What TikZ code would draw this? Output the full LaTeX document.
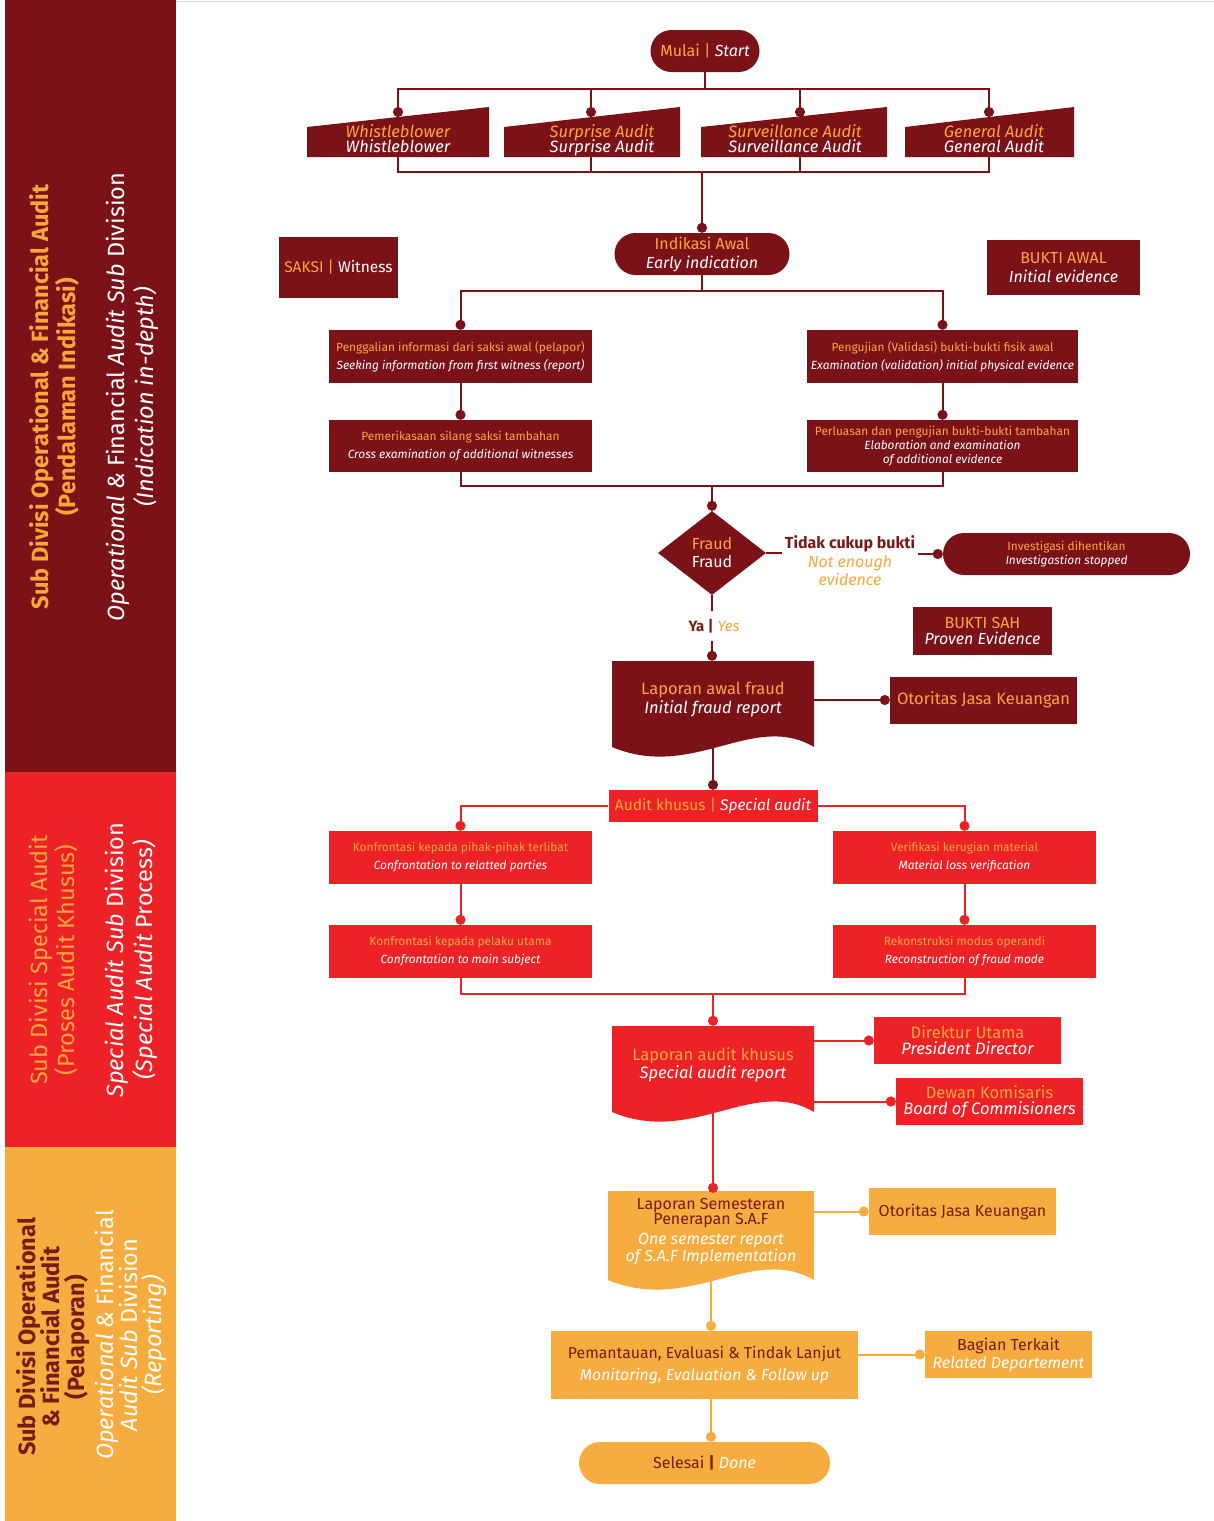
\documentclass[tikz,border=0pt]{standalone}
\usepackage{fontspec}
\setmainfont{Fira Sans}
\usetikzlibrary{shapes.geometric,arrows.meta,calc}
\definecolor{maroon}{HTML}{7A1218}
\definecolor{fred}{HTML}{EC2227}
\definecolor{forange}{HTML}{F7AC40}
\definecolor{torange}{HTML}{F8A83A}
\definecolor{tdark}{HTML}{7A1A14}
\newcommand\fsz[2]{\fontsize{#1}{#2}\selectfont}
\newcommand\txo[1]{{\color{torange}#1}}
\newcommand\txw[1]{{\color{white}\itshape #1}}
\newcommand\txu[1]{{\color{white}#1}}
\newcommand\txd[1]{{\color{tdark}#1}}
\newcommand\dph{\vphantom{Ap}}
\newcommand\nolsk{\lineskiplimit=-20pt\relax}
\newcommand\docpath[4]{(#1,#3) -- (#2,#3) -- (#2,#4) .. controls ({#2-0.3*(#2-#1)},{#4-36}) and ({#1+0.4*(#2-#1)},{#4+34}) .. (#1,#4) -- cycle}
\begin{document}
\begin{tikzpicture}[x=1pt,y=-1pt,
  every node/.style={inner sep=0pt, align=center},
  mbox/.style={rectangle, fill=maroon},
  rbox/.style={rectangle, fill=fred},
  obox/.style={rectangle, fill=forange},
  mpill/.style={rectangle, rounded corners=21pt, fill=maroon},
  opill/.style={rectangle, rounded corners=21pt, fill=forange},
  mline/.style={draw=maroon, line width=2pt},
  rline/.style={draw=fred, line width=2pt},
  oline/.style={draw=forange, line width=2pt},
  dotend/.style={-{Circle[length=10pt]}},
  small/.style={font=\fsz{11.9}{18}},
  srctxt/.style={font=\itshape\fsz{16.5}{15}\nolsk},
  bandtxt/.style={rotate=90}
]
\useasboundingbox (0,0) rectangle (1214,1521);
\fill[white] (0,0) rectangle (1214,1521);
\draw[black!15, line width=1pt] (176,1) -- (1214,1);

% ---------- left bands ----------
\fill[maroon] (5,0) rectangle (176,772);
\fill[fred] (5,772) rectangle (176,1147);
\fill[forange] (5,1147) rectangle (176,1521);

\node[bandtxt, font=\bfseries\fsz{23.5}{27}] (b1a) at (54,397)
  {\txo{Sub Divisi Operational \& Financial Audit}\\\txo{(Pendalaman Indikasi)}};
\node[bandtxt, font=\fsz{23.5}{29}] (b1b) at (132,397)
  {\txw{Operational \& }\txu{Financial}\txw{ Audit Sub }\txu{Division}\\\txw{(Indication in-depth)}};

\node[bandtxt, font=\fsz{23.5}{27}] (b2a) at (54,960)
  {\txo{Sub Divisi Special Audit}\\\txo{(Proses Audit Khusus)}};
\node[bandtxt, font=\fsz{23.5}{29}] (b2b) at (131,960)
  {\txw{Special Audit Sub }\txu{Division}\\\txw{(Special Audit }\txu{Process}\txw{)}};

\node[bandtxt, font=\bfseries\fsz{23.5}{24.5}] (b3a) at (53,1337)
  {\txd{Sub Divisi Operational}\\\txd{\& Financial Audit}\\\txd{(Pelaporan)}};
\node[bandtxt, font=\fsz{23.5}{24}] (b3b) at (131,1335)
  {\txw{Operational \& }\txu{Financial}\\\txw{Audit Sub }\txu{Division}\\\txw{(Reporting)}};

% ---------- start & sources ----------
\node[mpill, minimum width=109, minimum height=42, font=\fsz{16}{18}] (start) at (705,51)
  {\txo{Mulai \textbar} \txw{Start}};

\fill[maroon] (307,157) -- (307,127) -- (489,107) -- (489,157) -- cycle;
\fill[maroon] (504,157) -- (504,127) -- (680,107) -- (680,157) -- cycle;
\fill[maroon] (701,157) -- (701,127) -- (887,107) -- (887,157) -- cycle;
\fill[maroon] (905,157) -- (905,127) -- (1074,107) -- (1074,157) -- cycle;
\node[srctxt] (wb) at (398,140) {\txo{\dph Whistleblower}\\\txw{\dph Whistleblower}};
\node[srctxt] (sa) at (602,140) {\txo{\dph Surprise Audit}\\\txw{\dph Surprise Audit}};
\node[srctxt] (sv) at (795,140) {\txo{\dph Surveillance Audit}\\\txw{\dph Surveillance Audit}};
\node[srctxt] (ga) at (994,140) {\txo{\dph General Audit}\\\txw{\dph General Audit}};
\coordinate (wbin) at (398,117); \coordinate (wbout) at (398,157);
\coordinate (sain) at (591,117); \coordinate (saout) at (591,157);
\coordinate (svin) at (800,117); \coordinate (svout) at (800,157);
\coordinate (gain) at (989,117); \coordinate (gaout) at (989,157);
\coordinate (bus1) at (705,89);
\coordinate (bus2) at (702,172);

\draw[mline] (start.south) -- (bus1);
\draw[mline, dotend] (bus1) -| (wbin);
\draw[mline, dotend] (bus1) -| (gain);
\draw[mline, dotend] (sain |- bus1) -- (sain);
\draw[mline, dotend] (svin |- bus1) -- (svin);
\draw[mline] (wbout) |- (bus2) -| (gaout);
\draw[mline] (saout) -- (saout |- bus2);
\draw[mline] (svout) -- (svout |- bus2);

% ---------- indication ----------
\node[mpill, minimum width=175, minimum height=42, font=\fsz{16}{19}] (ind) at (702,254)
  {\txo{Indikasi Awal}\\\txw{Early indication}};
\draw[mline, dotend] (bus2) -- (ind.north);

\node[mbox, minimum width=119, minimum height=61, font=\fsz{15.5}{18}] (saksi) at (338.5,267.5)
  {\txo{SAKSI \textbar} \txu{Witness}};
\node[mbox, minimum width=153, minimum height=55, font=\fsz{16}{19}] (bawal) at (1063.5,267.5)
  {\txo{BUKTI AWAL}\\\txw{Initial evidence}};

\node[mbox, minimum width=263, minimum height=53, small] (p1l) at (460.5,356.5)
  {\txo{Penggalian informasi dari saksi awal (pelapor)}\\\txw{Seeking information from first witness (report)}};
\node[mbox, minimum width=271, minimum height=53, small] (p1r) at (942.5,356.5)
  {\txo{Pengujian (Validasi) bukti-bukti fisik awal}\\\txw{Examination (validation) initial physical evidence}};
\node[mbox, minimum width=263, minimum height=52, small] (p2l) at (460.5,446)
  {\txo{Pemerikasaan silang saksi tambahan}\\\txw{Cross examination of additional witnesses}};
\node[mbox, minimum width=271, minimum height=52, font=\fsz{11.9}{14}] (p2r) at (942.5,446)
  {\txo{Perluasan dan pengujian bukti-bukti tambahan}\\\txw{Elaboration and examination}\\\txw{of additional evidence}};

\coordinate (split1) at (702,291);
\draw[mline] (ind.south) -- (split1);
\draw[mline, dotend] (split1) -| (p1l.north);
\draw[mline, dotend] (split1) -| (p1r.north);
\draw[mline, dotend] (p1l.south) -- (p2l.north);
\draw[mline, dotend] (p1r.south) -- (p2r.north);

% ---------- fraud decision ----------
\node[diamond, fill=maroon, minimum width=108, minimum height=84, aspect=1.29, font=\fsz{16}{18}] (fraud) at (712,553)
  {\txo{Fraud}\\\txu{Fraud}};
\coordinate (m1) at (712,486);
\draw[mline] (p2l.south) |- (m1) -| (p2r.south);
\draw[mline, dotend] (m1) -- (fraud.north);

\node[font=\fsz{16}{18.5}, inner xsep=3pt] (tidak) at (850,561)
  {\txd{\bfseries Tidak cukup bukti}\\\txo{\itshape Not enough}\\\txo{\itshape evidence}};
\node[mpill, minimum width=247, minimum height=42, font=\fsz{11.9}{14}] (inv) at (1066.5,554)
  {\txo{Investigasi dihentikan}\\\txw{Investigastion stopped}};
\draw[mline] (fraud.east) -- (fraud.east -| tidak.west);
\draw[mline, dotend] (inv.west -| tidak.east) -- (inv.west);

\node[font=\fsz{15}{16}, inner ysep=8pt] (ya) at (714,626)
  {\txd{\bfseries Ya \textbar} \txo{\itshape Yes}};
\draw[mline] (fraud.south) -- (fraud.south |- ya.north);

\node[mbox, minimum width=139, minimum height=48, font=\fsz{16}{16}] (bsah) at (982.5,631)
  {\txo{BUKTI SAH}\\\txw{Proven Evidence}};

% ---------- initial fraud report ----------
\fill[maroon] \docpath{612}{814}{661}{747};
\node[minimum width=202, minimum height=78, font=\fsz{16.5}{19}] (lap1) at (713,700)
  {\txo{Laporan awal fraud}\\\txw{Initial fraud report}};
\draw[mline, dotend] (fraud.south |- ya.south) -- (fraud.south |- lap1.north);
\node[mbox, minimum width=187, minimum height=47, font=\fsz{16.5}{18}] (ojk1) at (983.5,700)
  {\txo{Otoritas Jasa Keuangan}};
\draw[mline, dotend] (lap1.east) -- (ojk1.west);

% ---------- special audit ----------
\node[rbox, minimum width=209, minimum height=32, font=\fsz{15.5}{18}] (ak) at (713,806)
  {\txo{Audit khusus \textbar} \txw{Special audit}};
\draw[mline, dotend] (lap1.south) -- (ak.north);

\node[rbox, minimum width=263, minimum height=53, small] (k1) at (460.5,857.5)
  {\txo{Konfrontasi kepada pihak-pihak terlibat}\\\txw{Confrontation to relatted parties}};
\node[rbox, minimum width=263, minimum height=53, small] (v1) at (964.5,857.5)
  {\txo{Verifikasi kerugian material}\\\txw{Material loss verification}};
\node[rbox, minimum width=263, minimum height=53, small] (k2) at (460.5,951.5)
  {\txo{Konfrontasi kepada pelaku utama}\\\txw{Confrontation to main subject}};
\node[rbox, minimum width=263, minimum height=53, small] (v2) at (964.5,951.5)
  {\txo{Rekonstruksi modus operandi}\\\txw{Reconstruction of fraud mode}};

\draw[rline, dotend] (ak.west) -| (k1.north);
\draw[rline, dotend] (ak.east) -| (v1.north);
\draw[rline, dotend] (k1.south) -- (k2.north);
\draw[rline, dotend] (v1.south) -- (v2.north);

\coordinate (m2) at (713,994);
\draw[rline] (k2.south) |- (m2) -| (v2.south);

\fill[fred] \docpath{612}{814}{1026}{1112};
\node[minimum width=202, minimum height=78, font=\fsz{16.5}{18}] (lak) at (713,1065)
  {\txo{Laporan audit khusus}\\\txw{Special audit report}};
\draw[rline, dotend] (m2) -- (lak.north);

\node[rbox, minimum width=187, minimum height=47, font=\fsz{16.5}{16}] (du) at (967.5,1040.5)
  {\txo{Direktur Utama}\\\txw{President Director}};
\node[rbox, minimum width=187, minimum height=47, font=\fsz{16.5}{16}] (dk) at (989.5,1101.5)
  {\txo{Dewan Komisaris}\\\txw{Board of Commisioners}};
\draw[rline, dotend] (lak.north east |- du.west) -- (du.west);
\draw[rline, dotend] (lak.north east |- dk.west) -- (dk.west);

% ---------- reporting ----------
\fill[forange] \docpath{608}{814}{1191}{1280};
\node[minimum width=206, minimum height=78, font=\fsz{16}{15}] (sem) at (711,1232)
  {\txd{Laporan Semesteran}\\\txd{Penerapan S.A.F}\\[5pt]\txw{One semester report}\\\txw{of S.A.F Implementation}};
\draw[rline, dotend] (lak.south) -- (lak.south |- sem.north);

\node[obox, minimum width=187, minimum height=47, font=\fsz{16}{18}] (ojk2) at (962.5,1211.5)
  {\txd{Otoritas Jasa Keuangan}};
\draw[oline, dotend] (sem.north east |- ojk2.west) -- (ojk2.west);

\node[obox, minimum width=307, minimum height=68, font=\fsz{15.8}{22}] (pem) at (704.5,1365)
  {\txd{Pemantauan, Evaluasi \& Tindak Lanjut}\\\txw{Monitoring, Evaluation \& Follow up}};
\draw[oline, dotend] (sem.south) -- (sem.south |- pem.north);

\node[obox, minimum width=167, minimum height=47, font=\fsz{16}{18}] (bag) at (1008.5,1354.5)
  {\txd{Bagian Terkait}\\\txw{Related Departement}};
\draw[oline, dotend] (pem.east |- bag.west) -- (bag.west);

\node[opill, minimum width=251, minimum height=42, font=\fsz{16}{18}] (sel) at (704.5,1463)
  {\txd{Selesai {\bfseries\textbar}} \txw{Done}};
\draw[oline, dotend] (sem.south |- pem.south) -- (sem.south |- sel.north);
\end{tikzpicture}
\end{document}
